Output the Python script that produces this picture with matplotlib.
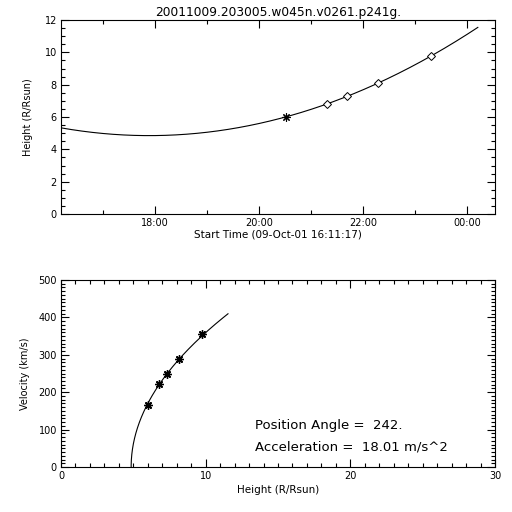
import numpy as np
import matplotlib
matplotlib.use("Agg")
import matplotlib.pyplot as plt
from matplotlib.ticker import MultipleLocator, FixedLocator

# ---- data ----
title = "20011009.203005.w045n.v0261.p241g."
start_label = "Start Time (09-Oct-01 16:11:17)"
times_hr = [20.515, 21.31, 21.69, 22.29, 23.30]      # hours of day
heights = [6.00, 6.80, 7.31, 8.13, 9.75]             # R/Rsun
velocities = [165, 221, 248, 288, 355]               # km/s
acceleration = 18.01                                  # m/s^2
position_angle = 242
time_ticks = [18, 20, 22, 24]
time_tick_labels = ["18:00", "20:00", "22:00", "00:00"]
t_start = 16 + 11/60 + 17/3600
t_axis_end = 24.53
t_fit_end = 24.20

RSUN_KM = 696000.0
# acceleration in Rsun / h^2
a_rs = acceleration * 1e-3 * 3600**2 / RSUN_KM
t = np.array(times_hr)
h = np.array(heights)
c1, c0 = np.polyfit(t, h - 0.5 * a_rs * t**2, 1)

tt = np.linspace(t_start, t_fit_end, 400)
hh = c0 + c1 * tt + 0.5 * a_rs * tt**2
vv = (c1 + a_rs * tt) * RSUN_KM / 3600.0

plt.rcParams['font.family'] = ['DejaVu Sans']
fig = plt.figure(figsize=(5.12, 5.12), dpi=100)
fig.patch.set_facecolor('white')

lw = 0.8

def style(ax):
    for s in ax.spines.values():
        s.set_linewidth(lw)
    ax.tick_params(which='both', direction='in', top=True, right=True,
                   width=lw, labelsize=7, pad=3)
    ax.tick_params(which='major', length=5.5)
    ax.tick_params(which='minor', length=3)

# ---- top panel ----
ax1 = fig.add_axes([61/512, 1-214/512, 434/512, 194/512])
ax1.plot(tt, hh, color='black', lw=lw)
ax1.plot(t[:1], h[:1], linestyle='none', marker=(8, 2, 0), ms=6,
         mec='black', mew=0.8)
ax1.plot(t[1:], h[1:], linestyle='none', marker='D', ms=3.8,
         mfc='white', mec='black', mew=0.7)
ax1.set_xlim(t_start, t_axis_end)
ax1.set_ylim(0, 12)
ax1.xaxis.set_major_locator(FixedLocator(time_ticks))
ax1.set_xticklabels(time_tick_labels)
ax1.xaxis.set_minor_locator(FixedLocator([17, 19, 21, 23]))
ax1.yaxis.set_major_locator(MultipleLocator(2))
ax1.yaxis.set_minor_locator(MultipleLocator(0.5))
style(ax1)
ax1.set_xlabel(start_label, fontsize=7.5, labelpad=1)
ax1.set_ylabel("Height (R/Rsun)", fontsize=7, labelpad=8)
ax1.set_title(title, fontsize=8.8, pad=3)

# ---- bottom panel ----
ax2 = fig.add_axes([61/512, 1-467/512, 434/512, 187/512])
ax2.plot(hh, vv, color='black', lw=lw)
ax2.plot(h, velocities, linestyle='none', marker=(8, 2, 0), ms=6,
         mec='black', mew=1.0)
ax2.set_xlim(0, 30)
ax2.set_ylim(0, 500)
ax2.xaxis.set_major_locator(MultipleLocator(10))
ax2.xaxis.set_minor_locator(MultipleLocator(1))
ax2.yaxis.set_major_locator(MultipleLocator(100))
ax2.yaxis.set_minor_locator(MultipleLocator(10))
style(ax2)
ax2.set_xlabel("Height (R/Rsun)", fontsize=7.5, labelpad=3)
ax2.set_ylabel("Velocity (km/s)", fontsize=7, labelpad=6)
ax2.text(13.4, 112, f"Position Angle =  {position_angle}.", fontsize=9.5,
         ha='left', va='center')
ax2.text(13.4, 54, f"Acceleration =  {acceleration:.2f} m/s^2", fontsize=9.5,
         ha='left', va='center')

fig.savefig("out.png", dpi=100, facecolor='white')
